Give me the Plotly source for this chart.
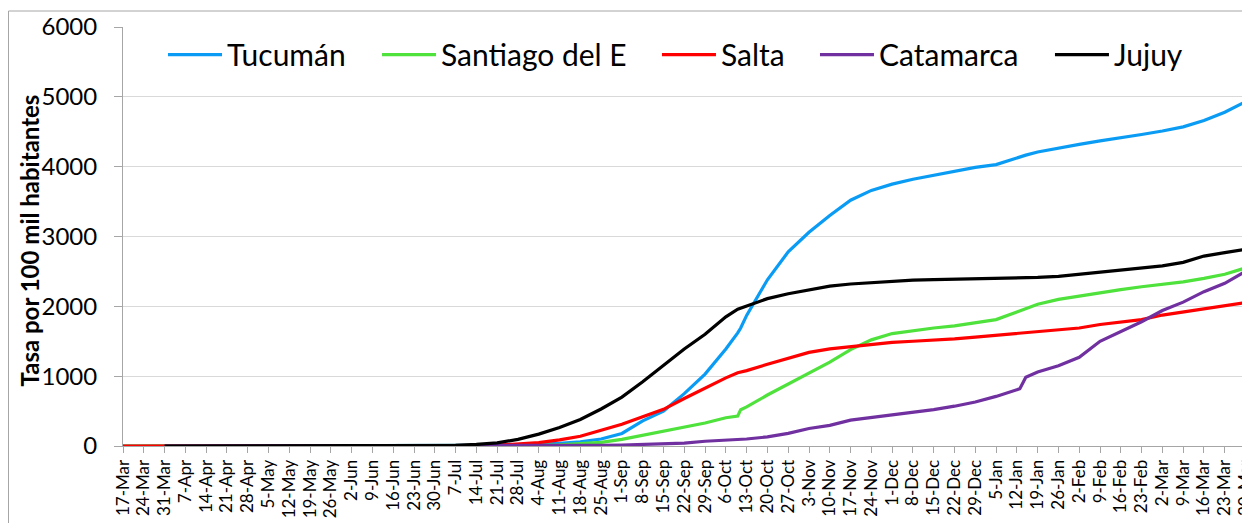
import plotly.graph_objects as go

dates = [
    "2020-03-17", "2020-03-24", "2020-03-31", "2020-04-07", "2020-04-14", "2020-04-21",
    "2020-04-28", "2020-05-05", "2020-05-12", "2020-05-19", "2020-05-26", "2020-06-02",
    "2020-06-09", "2020-06-16", "2020-06-23", "2020-06-30", "2020-07-07", "2020-07-14",
    "2020-07-21", "2020-07-28", "2020-08-04", "2020-08-11", "2020-08-18", "2020-08-25",
    "2020-09-01", "2020-09-08", "2020-09-15", "2020-09-22", "2020-09-29", "2020-10-06",
    "2020-10-10", "2020-10-11", "2020-10-13", "2020-10-20", "2020-10-27", "2020-11-03",
    "2020-11-10", "2020-11-17", "2020-11-24", "2020-12-01", "2020-12-08", "2020-12-15",
    "2020-12-22", "2020-12-29", "2021-01-05", "2021-01-12", "2021-01-13", "2021-01-15",
    "2021-01-19", "2021-01-26", "2021-02-02", "2021-02-09", "2021-02-16", "2021-02-23",
    "2021-03-02", "2021-03-09", "2021-03-16", "2021-03-23", "2021-03-30", "2021-03-31",
]

tucuman = [
    0, 0, 0, 0, 0, 0, 0, 0, 0, 0, 0, 0, 0, 1, 1, 2, 3, 5, 8, 14, 22, 38, 58, 100,
    180, 360, 500, 750, 1030, 1390, 1620, 1690, 1870, 2380, 2780, 3060, 3300, 3520,
    3660, 3750, 3820, 3880, 3940, 3990, 4030, 4130, 4140, 4165, 4210, 4270, 4320,
    4370, 4410, 4460, 4510, 4570, 4660, 4780, 4930, 4970,
]
santiago = [
    0, 0, 0, 0, 0, 0, 0, 0, 0, 0, 0, 0, 0, 0, 0, 1, 1, 2, 4, 6, 10, 18, 32, 52,
    95, 155, 215, 270, 330, 405, 430, 520, 560, 730, 890, 1050, 1200, 1380, 1520,
    1610, 1655, 1690, 1720, 1760, 1810, 1920, 1935, 1975, 2030, 2100, 2150, 2200,
    2240, 2280, 2310, 2350, 2400, 2460, 2550, 2570,
]
salta = [
    0, 0, 0, 0, 0, 0, 0, 0, 0, 0, 0, 0, 0, 1, 1, 2, 3, 5, 12, 25, 48, 88, 140, 225,
    310, 420, 525, 680, 830, 975, 1050, 1060, 1080, 1170, 1260, 1340, 1390, 1420,
    1450, 1485, 1500, 1515, 1535, 1560, 1585, 1610, 1615, 1625, 1640, 1665, 1690,
    1740, 1770, 1810, 1875, 1920, 1960, 2000, 2050, 2060,
]
catamarca = [
    None, None, 0, 0, 0, 0, 0, 0, 0, 0, 0, 0, 0, 0, 0, 0, 1, 1, 2, 3, 4, 5, 6, 10,
    14, 20, 26, 40, 68, 84, 95, 97, 100, 130, 180, 250, 295, 370, 405, 440, 475, 520,
    570, 630, 710, 800, 820, 985, 1060, 1150, 1270, 1500, 1640, 1780, 1940, 2060,
    2210, 2330, 2500, 2535,
]
jujuy = [
    None, None, 0, 0, 0, 0, 0, 0, 0, 0, 0, 0, 1, 1, 2, 4, 10, 22, 45, 95, 170, 265,
    380, 530, 700, 920, 1150, 1390, 1600, 1850, 1960, 1975, 2010, 2110, 2180, 2240,
    2290, 2320, 2340, 2360, 2375, 2382, 2387, 2392, 2396, 2400, 2402, 2406, 2415,
    2430, 2460, 2490, 2520, 2550, 2580, 2630, 2720, 2770, 2815, 2822,
]

names = ["Tucumán", "Santiago del E", "Salta", "Catamarca", "Jujuy"]
values = [tucuman, santiago, salta, catamarca, jujuy]
colors = ["#0a9cf5", "#4fe23c", "#ff0000", "#7030a0", "#000000"]
legend_x = [0.0355, 0.2254, 0.4738, 0.6140, 0.8225]

FONT = "Lato"
W, H = 1250, 523
ML, MR, MT, MB = 115, 8, 19, 85
PW = W - ML - MR
PH = H - MT - MB

fig = go.Figure()
legend_ids = ["legend", "legend2", "legend3", "legend4", "legend5"]
for name, vals, color, lid in zip(names, values, colors, legend_ids):
    fig.add_trace(go.Scatter(
        x=dates, y=vals, name=name, mode="lines", legend=lid,
        line=dict(color=color, width=3.2), connectgaps=False,
    ))

legend_layout = {}
for lid, lx in zip(legend_ids, legend_x):
    legend_layout[lid] = dict(
        orientation="h", x=lx, xanchor="left", y=0.934, yanchor="middle",
        font=dict(family=FONT, size=30, color="black"),
        itemwidth=54, bgcolor="rgba(0,0,0,0)", borderwidth=0,
    )

fig.update_layout(
    width=W, height=H,
    margin=dict(l=ML, r=MR, t=MT, b=MB, autoexpand=False),
    paper_bgcolor="white", plot_bgcolor="white",
    font=dict(family=FONT, color="black"),
    showlegend=True,
    xaxis=dict(
        type="date",
        range=["2020-03-17", "2021-03-31 12:00"],
        tick0="2020-03-17", dtick=7 * 24 * 3600 * 1000,
        tickformat="%-d-%b", tickangle=-90,
        tickfont=dict(family=FONT, size=17, color="black"),
        showgrid=False, showline=True, linecolor="#a6a6a6", linewidth=1,
        ticks="outside", ticklen=6, tickcolor="#a6a6a6",
        zeroline=False, automargin=False,
    ),
    yaxis=dict(
        range=[0, 6000], dtick=1000,
        tickfont=dict(family=FONT, size=24, color="black"),
        showgrid=True, gridcolor="#d9d9d9", gridwidth=1,
        showline=True, linecolor="#a6a6a6", linewidth=1,
        ticks="outside", ticklen=8, tickcolor="#a6a6a6",
        ticklabelstandoff=12, zeroline=False, automargin=False,
    ),
    annotations=[dict(
        text="<b>Tasa por 100 mil habitantes</b>", textangle=-90,
        xref="paper", yref="paper",
        x=(21 - ML) / PW, y=(PH + MT - 232.5) / PH,
        xanchor="center", yanchor="middle", showarrow=False,
        font=dict(family=FONT, size=24, color="black"),
    )],
    shapes=[dict(
        type="rect", xref="paper", yref="paper",
        x0=(0.5 - ML) / PW, x1=1.05, y0=-0.5, y1=(PH + MT - 3) / PH,
        line=dict(color="#a6a6a6", width=1), fillcolor="rgba(0,0,0,0)", layer="below",
    )],
    **legend_layout,
)

fig.write_html("out.html")
